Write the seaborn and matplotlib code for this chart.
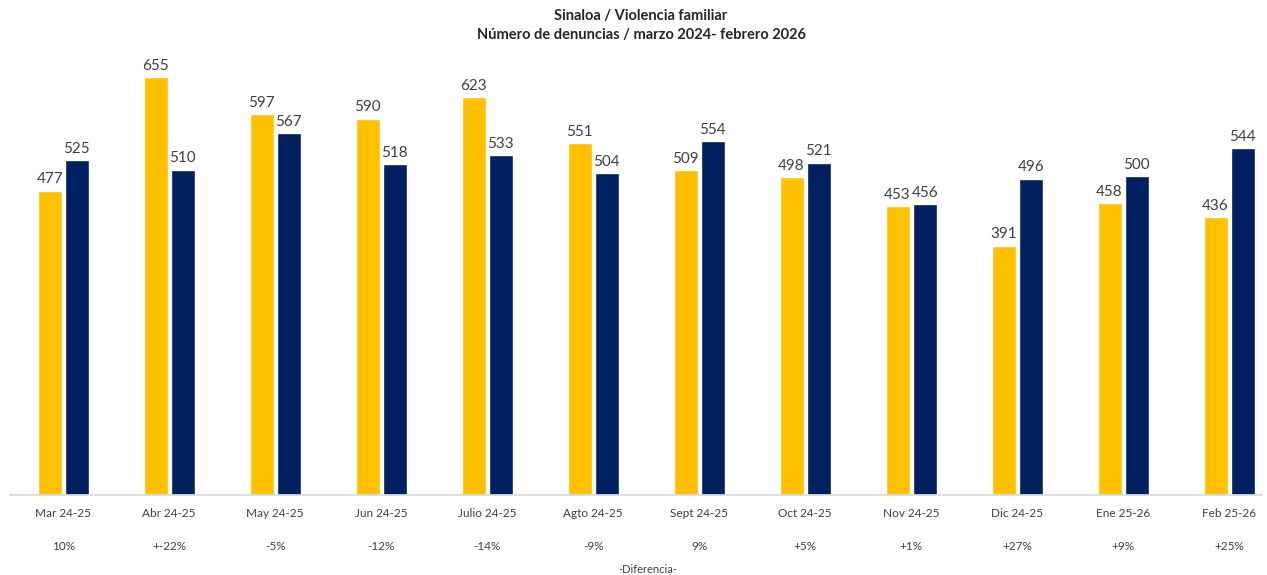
import pandas as pd
import matplotlib
matplotlib.use('Agg')
import matplotlib.pyplot as plt
import seaborn as sns

# Values
months = ['Mar 24-25', 'Abr 24-25', 'May 24-25', 'Jun 24-25', 'Julio 24-25', 'Agto 24-25',
          'Sept 24-25', 'Oct 24-25', 'Nov 24-25', 'Dic 24-25', 'Ene 25-26', 'Feb 25-26']
prev_year = [477, 655, 597, 590, 623, 551, 509, 498, 453, 391, 458, 436]
curr_year = [525, 510, 567, 518, 533, 504, 554, 521, 456, 496, 500, 544]
diff_labels = ['10%', '+-22%', '-5%', '-12%', '-14%', '-9%', '9%', '+5%', '+1%', '+27%', '+9%', '+25%']

df = pd.DataFrame({
    'mes': months * 2,
    'periodo': ['anterior'] * len(months) + ['actual'] * len(months),
    'denuncias': prev_year + curr_year,
})

sns.set_theme(style='white')
plt.rcParams['font.family'] = ['Lato', 'DejaVu Sans']

fig = plt.figure(figsize=(12.67, 5.75), dpi=100)
ax = fig.add_axes([0.008, 0.139, 0.988, 0.757])

sns.barplot(data=df, x='mes', y='denuncias', hue='periodo',
            palette=['#FFC000', '#002060'], saturation=1, width=0.51, gap=0.11,
            legend=False, ax=ax)

for cont in ax.containers:
    ax.bar_label(cont, padding=3, fontsize=11, color='#404040')

ax.set_ylim(0, 682)
ax.set_xlim(-0.5, 11.31)
ax.set_yticks([])
ax.set_xlabel('')
ax.set_ylabel('')
for side in ['top', 'right', 'left']:
    ax.spines[side].set_visible(False)
ax.spines['bottom'].set_color('#D9D9D9')
ax.tick_params(axis='x', length=0, pad=9, labelsize=8.5, labelcolor='#404040')

# difference row under the month labels
for i, lab in enumerate(diff_labels):
    ax.text(i, -0.118, lab, transform=ax.get_xaxis_transform(),
            ha='center', va='center', fontsize=8.5, color='#404040')

fig.text(0.511, 0.009, '-Diferencia-', ha='center', va='center', fontsize=8, color='#404040')

fig.text(0.506, 0.972, 'Sinaloa / Violencia familiar', ha='center', va='center',
         fontsize=10.5, fontweight='bold', color='#262626')
fig.text(0.506, 0.939, 'Número de denuncias / marzo 2024- febrero 2026', ha='center', va='center',
         fontsize=10.5, fontweight='bold', color='#262626')

fig.savefig('out.png', dpi=100)
